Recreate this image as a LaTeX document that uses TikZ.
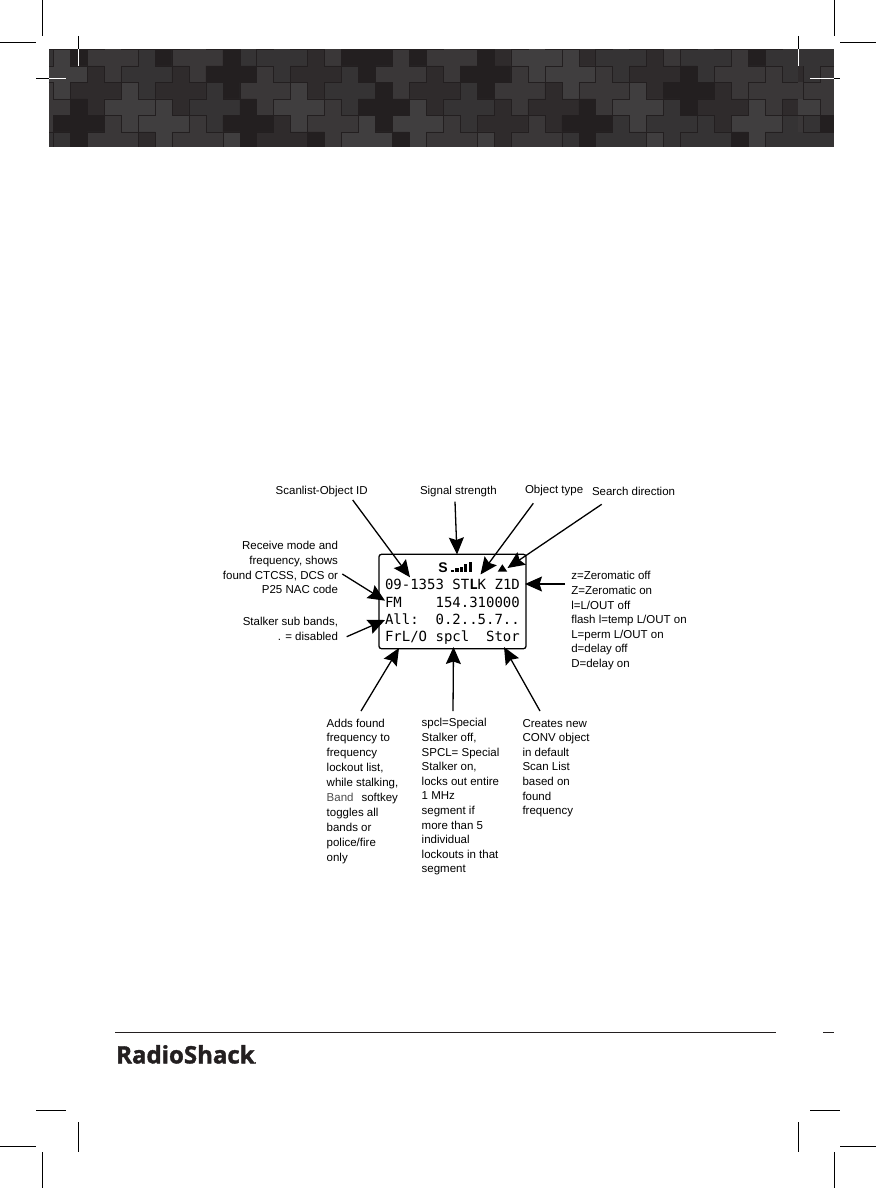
\documentclass[tikz,border=0pt]{standalone}
\usepackage{fontspec}
\usetikzlibrary{arrows.meta}
\setmainfont{Liberation Sans}
\newfontfamily\lcdfont{DejaVu Sans Mono}
\newfontfamily\logofont[BoldFeatures={FakeBold=1.5}]{Open Sans}
\definecolor{tileD}{HTML}{231F20}
\definecolor{tileA}{HTML}{2F2B2C}
\definecolor{tileB}{HTML}{353334}
\definecolor{tileE}{HTML}{3A3738}
\definecolor{tileC}{HTML}{403E3F}
\newcommand{\tilerow}[2]{%
  \foreach \c/\k in {#2}{
    \filldraw[fill=tile\k,draw=tileD,line width=.45pt,line join=miter]
      (\c,#1) ++(0,-1) -- ++(1,0) -- ++(0,1) -- ++(1,0) -- ++(0,1) -- ++(-1,0)
      -- ++(0,1) -- ++(-1,0) -- ++(0,-1) -- ++(-1,0) -- ++(0,-1) -- ++(1,0) -- cycle;
  }}
\tikzset{
  crop/.style={line width=.9pt,black},
  cropw/.style={line width=.9pt,white},
  lbl/.style={inner sep=0pt,outer sep=0pt,font=\fontsize{11.5}{14.6}\selectfont},
  lcdtext/.style={inner sep=0pt,outer sep=0pt,anchor=base west,font=\lcdfont\fontsize{14}{14}\selectfont},
  callout/.style={line width=1.3pt,black,-{Stealth[length=17pt,width=15pt,inset=2.5pt]},shorten >=0pt},
}
\begin{document}
\begin{tikzpicture}[x=1pt,y=-1pt]
\useasboundingbox (0,0) rectangle (876,1188);
\fill[white] (0,0) rectangle (876,1188);
% banner
\begin{scope}
  \clip (49,49.3) rectangle (798,146.7);
  \begin{scope}[shift={(53.3,49.3)},x=16.95pt,y=-16.5pt]
    \tilerow{-1}{1/D,6/D,11/B,16/E,21/D,26/A,31/A,36/E,41/D}
    \tilerow{0}{-2/B,3/E,8/E,13/B,18/D,23/E,28/C,33/B,38/B,43/B}
    \tilerow{1}{0/C,5/B,10/D,15/A,20/E,25/D,30/C,35/A,40/E}
    \tilerow{2}{2/A,7/A,12/E,17/B,22/A,27/E,32/E,37/D,42/E}
    \tilerow{3}{-1/E,4/C,9/B,14/C,19/D,24/B,29/A,34/C,39/A,44/A}
    \tilerow{4}{1/D,6/C,11/D,16/E,21/C,26/A,31/D,36/B,41/C}
    \tilerow{5}{-2/B,3/E,8/E,13/A,18/C,23/E,28/E,33/B,38/B,43/B}
    \tilerow{6}{0/B,5/A,10/C,15/D,20/D,25/C,30/B,35/C,40/D}
  \end{scope}
\end{scope}
% right strip of the banner
\fill[tileB] (798,49.3) rectangle (834,146.7);
\fill[tileA] (798,65.8) rectangle (803.3,82.3);
\fill[tileE] (798,82.3) rectangle (834,98.8);
\fill[tileC] (798,98.8) rectangle (820,115.3);
\fill[tileE] (820,98.8) rectangle (834,115.3);
\fill[tileE] (798,115.3) rectangle (803.3,131.8);
\fill[tileD] (820,115.3) rectangle (834,131.8);
\fill[tileE] (820,65.8) rectangle (834,82.3);
\draw[tileD,line width=.45pt] (834,65.8) -- (820,65.8) -- (820,82.3) -- (803.3,82.3) -- (803.3,65.8);
\draw[tileD,line width=.45pt] (803.3,82.3) -- (803.3,98.8) -- (820,98.8) -- (820,115.3) -- (834,115.3);
\draw[tileD,line width=.45pt] (798,115.3) -- (820,115.3);
\draw[tileD,line width=.45pt] (803.3,115.3) -- (803.3,131.8) -- (834,131.8);
% crop marks
\draw[crop] (42.5,0) -- (42.5,36);
\draw[crop] (0,42.5) -- (36,42.5);
\draw[crop] (78,36) -- (78,49.3);
\draw[cropw] (78,49.3) -- (78,66);
\draw[crop] (36,78.3) -- (49,78.3);
\draw[cropw] (49,78.3) -- (66,78.3);
\draw[crop] (834.3,0) -- (834.3,36);
\draw[crop] (840,42.5) -- (876,42.5);
\draw[crop] (798.3,36) -- (798.3,49.3);
\draw[cropw] (798.3,49.3) -- (798.3,66);
\draw[crop] (834,78.3) -- (840,78.3);
\draw[cropw] (810,78.3) -- (834,78.3);
\draw[crop] (36,1110) -- (66,1110);
\draw[crop] (78,1122) -- (78,1152);
\draw[crop] (0,1146.5) -- (36,1146.5);
\draw[crop] (42.5,1152) -- (42.5,1188);
\draw[crop] (810,1110) -- (840,1110);
\draw[crop] (798.3,1122) -- (798.3,1152);
\draw[crop] (840,1146.5) -- (876,1146.5);
\draw[crop] (834.3,1152) -- (834.3,1188);
% footer
\draw[line width=.9pt,tileD] (115,1032.3) -- (776,1032.3);
\draw[line width=.9pt,tileD] (823,1032.3) -- (834,1032.3);
\node[inner sep=0pt,anchor=base west,font=\logofont\bfseries\fontsize{24}{25}\selectfont,text=tileD] (logo) at (116,1063.4) {RadioShack\kern-.5pt{\fontsize{8}{8}\selectfont.}};
% display
\draw[line width=1.3pt,black,rounded corners=2.5pt] (379,554.3) rectangle (526,648.7);
\node[lcdtext] (line1) at (385,589.5) {09-1353 ST\textbf{L}K Z1D};
\node[lcdtext] (line2) at (385,607.3) {FM~~~~154.310000};
\node[lcdtext] (line3) at (385,624) {All:~~0.2..5.7..};
\node[lcdtext] (line4) at (385,641.7) {FrL/O spcl~~Stor};
\node[inner sep=0pt,anchor=base,font=\bfseries\fontsize{14}{14}\selectfont] (sig) at (443,572.4) {S};
\foreach \i/\h in {0/2.5,1/4,2/5.5,3/8,4/10}{
  \fill[black] ({451+4.4*\i},572.3) rectangle ++(3.2,-\h);
}
\fill[black] (502.3,564.3) -- (507.3,571.7) -- (497.7,571.7) -- cycle;
% labels
\node[lbl,anchor=base west] (lscan) at (275.7,494) {Scanlist-Object ID};
\node[lbl,anchor=base west] (lsig) at (420,494) {Signal strength};
\node[lbl,anchor=base west] (lobj) at (525,493.5) {Object type};
\node[lbl,anchor=base west] (lsearch) at (592,495) {Search direction};
\node[lbl,anchor=north east,align=right] (lrec) at (338,539.6) {\strut Receive mode and\\frequency, shows\\found CTCSS, DCS or\\P25 NAC code};
\node[lbl,anchor=north east,align=right] (lstalk) at (338,615.6) {\strut Stalker sub bands,\\. = disabled};
\node[lbl,anchor=north west,align=left] (lzero) at (571.3,569.6) {\strut z=Zeromatic off\\Z=Zeromatic on\\l=L/OUT off\\flash l=temp L/OUT on\\L=perm L/OUT on\\d=delay off\\D=delay on};
\node[lbl,anchor=north west,align=left,font=\fontsize{11.5}{14.9}\selectfont] (ladd) at (326.7,716.6) {\strut Adds found\\frequency to\\frequency\\lockout list,\\while stalking,\\{\color{black!70}Band}\hspace{8pt}softkey\\toggles all\\bands or\\police/fire\\only};
\node[lbl,anchor=north west,align=left] (lspcl) at (421.7,716.6) {\strut spcl=Special\\Stalker off,\\SPCL= Special\\Stalker on,\\locks out entire\\1 MHz\\segment if\\more than 5\\individual\\lockouts in that\\segment};
\node[lbl,anchor=north west,align=left] (lstor) at (522.5,716.9) {\strut Creates new\\CONV object\\in default\\Scan List\\based on\\found\\frequency};
% connector ends
\coordinate (a1) at (352.7,500);   \coordinate (b1) at (410,577.3);
\coordinate (a2) at (455,501.7);   \coordinate (b2) at (457,554.5);
\coordinate (a3) at (533.3,503.3); \coordinate (b3) at (480.5,574.5);
\coordinate (a4) at (601.7,504.3); \coordinate (b4) at (507.5,568);
\coordinate (a5) at (565,584);     \coordinate (b5) at (525,584);
\coordinate (a6) at (342.3,574);   \coordinate (b6) at (385,600.7);
\coordinate (a7) at (346.7,636.7); \coordinate (b7) at (385,620);
\coordinate (a8) at (361,711);     \coordinate (b8) at (399,648);
\coordinate (a9) at (453,711);     \coordinate (b9) at (453.5,647);
\coordinate (a10) at (540,711);    \coordinate (b10) at (504,647);
\foreach \n in {1,...,10}{ \draw[callout] (a\n) -- (b\n); }
\end{tikzpicture}
\end{document}
